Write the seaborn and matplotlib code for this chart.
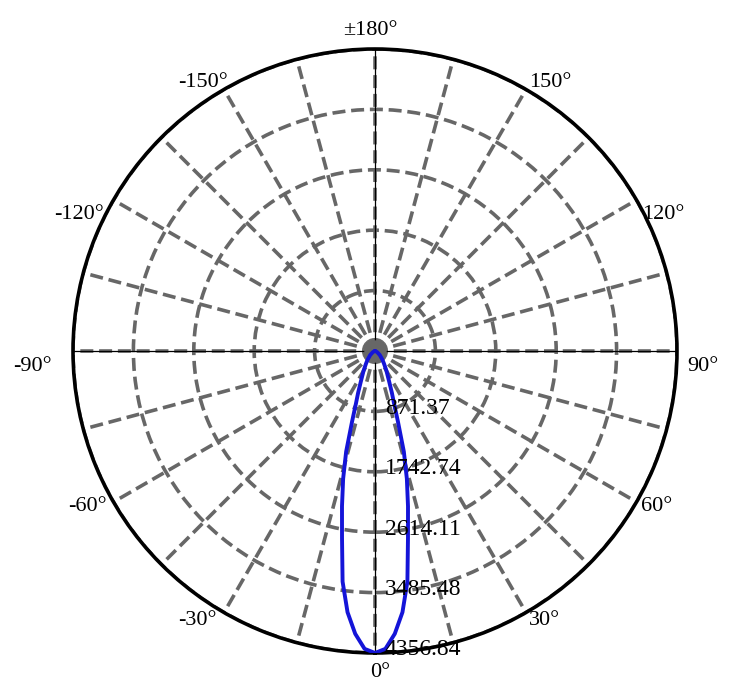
import numpy as np
import matplotlib
matplotlib.use("Agg")
import matplotlib.pyplot as plt
import seaborn as sns

# ---------------------------------------------------------------
# data: luminous intensity (cd) vs angle (deg)
# ---------------------------------------------------------------
angles_deg = [0, 2, 4, 6, 8, 10, 12, 14, 16, 18, 20, 22, 25, 30, 35, 40,
              50, 60, 70, 80, 90, 120, 150, 180]
intensity = [4356.84, 4300, 4090, 3790, 3360, 2740, 2290, 1900, 1510, 1070,
             800, 650, 480, 330, 230, 170, 90, 40, 15, 5, 0, 0, 0, 0]
r_ticks = [871.37, 1742.74, 2614.11, 3485.48, 4356.84]
label_deg = [0, 30, 60, 90, 120, 150, 180, 210, 240, 270, 300, 330]
theta_labels = ["0°", "30°", "60°", "90°", "120°", "150°", "±180°",
                "-150°", "-120°", "-90°", "-60°", "-30°"]

# mirror the half curve to get -180..180
ang = np.array(angles_deg, dtype=float)
val = np.array(intensity, dtype=float)
full_ang = np.concatenate([-ang[::-1], ang[1:]])
full_val = np.concatenate([val[::-1], val[1:]])
theta = np.deg2rad(full_ang)

sns.set_style("white")
plt.rcParams['font.family'] = ['Liberation Serif', 'DejaVu Serif']
plt.rcParams['text.color'] = 'black'

fig = plt.figure(figsize=(7.35, 6.98), dpi=100)
ax = fig.add_axes([0.0993, 0.0645, 0.8218, 0.8653], projection="polar")
ax.set_theta_zero_location("S")
ax.set_theta_direction(1)
ax.set_ylim(0, r_ticks[-1])

# grid: spokes every 15 deg
grid_deg = np.arange(0, 360, 15)
ax.set_thetagrids(grid_deg, [""] * len(grid_deg))
ax.set_rgrids(r_ticks, [""] * len(r_ticks))
ax.grid(True, color="#676767", linestyle=(0, (3.6, 1.6)), linewidth=2.6)
ax.spines["polar"].set_color("black")
ax.spines["polar"].set_linewidth(2.6)

# thin solid cross lines
for a in [0, 90]:
    ax.plot(np.deg2rad([a, a + 180]), [r_ticks[-1], r_ticks[-1]], color="black",
            linewidth=0.9, zorder=3)

# center dot
ax.scatter([0], [0], s=260, color="#676767", zorder=4, linewidths=0)

sns.lineplot(x=theta, y=full_val, sort=False, ax=ax, color="#1414d8",
             linewidth=2.8, zorder=5)
ax.set_xlabel("")
ax.set_ylabel("")

# angle labels around the rim (alignment + pixel offset per label)
placement = {
    0: ("center", "top", (5, -10)),
    30: ("left", "top", (3, 2)),
    60: ("left", "top", (4, 5)),
    90: ("left", "top", (10, -6)),
    120: ("left", "top", (6, -5)),
    150: ("left", "bottom", (3, -3)),
    180: ("center", "bottom", (-5, 9)),
    210: ("right", "bottom", (4, -3)),
    240: ("right", "top", (-10, -5)),
    270: ("right", "top", (-21, -6)),
    300: ("right", "top", (-7, 5)),
    330: ("right", "top", (-7, 2)),
}
R = r_ticks[-1]
for d, lab in zip(label_deg, theta_labels):
    ha, va, off = placement[d]
    ax.annotate(lab, xy=(np.deg2rad(d), R), xytext=off,
                textcoords="offset pixels", ha=ha, va=va, fontsize=16,
                color="black", annotation_clip=False)

# radial labels along 0 deg
for rv in r_ticks:
    ax.annotate(f"{rv:.2f}", xy=(0, rv), xytext=(10, 3),
                textcoords="offset pixels", ha="left", va="center",
                fontsize=17, color="black", zorder=6, annotation_clip=False)

fig.savefig("out.png", dpi=100)
